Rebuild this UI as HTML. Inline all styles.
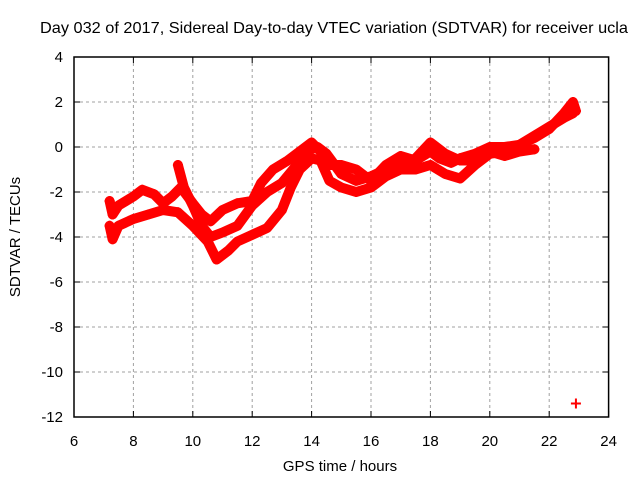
<!DOCTYPE html>
<html><head><meta charset="utf-8"><style>
body{margin:0;background:#fff;}
svg{display:block;font-family:"Liberation Sans",sans-serif;}
</style></head><body>
<svg id="chart" width="640" height="480" xmlns="http://www.w3.org/2000/svg"></svg>
<script>
const xTicks=[6,8,10,12,14,16,18,20,22,24];
const yTicks=[4,2,0,-2,-4,-6,-8,-10,-12];
const upperT=[7.2,7.3,7.5,8,8.3,8.7,9,9.3,9.6,10,10.3,10.6,11,11.5,12,12.3,12.7,13.2,13.6,14,14.3,14.6,15,15.5,16,16.5,17,17.5,18,18.3,18.7,19,19.5,20,20.5,21,21.5,22,22.5,22.8,22.9];
const upperV=[-2.4,-3,-2.6,-2.2,-1.9,-2.1,-2.5,-2.2,-1.8,-2.5,-3,-3.3,-2.8,-2.5,-2.4,-1.6,-1.0,-0.6,-0.2,0.2,-0.2,-0.8,-0.8,-1,-1.5,-0.8,-0.4,-0.6,-0.2,-0.5,-0.7,-0.5,-0.3,0,0,0.1,0.4,0.8,1.5,2.0,1.6];
const lowerT=[7.2,7.3,7.5,8,8.5,9,9.5,10,10.5,10.8,11.2,11.5,12,12.5,13,13.3,13.6,14,14.3,14.6,15,15.5,16,16.5,17,17.5,18,18.5,19,19.5,20,20.5,21,21.5,22,22.5,22.8];
const lowerV=[-3.5,-4.1,-3.5,-3.2,-3,-2.8,-2.9,-3.5,-4.2,-5,-4.6,-4.2,-3.9,-3.6,-2.8,-1.8,-1,-0.5,-0.6,-1.5,-1.8,-2.0,-1.8,-1.3,-1.0,-1.0,-0.8,-1.2,-1.4,-0.8,-0.3,-0.2,0.1,0.5,0.9,1.3,1.5];
const midT=[9.5,9.7,10,10.3,10.6,11,11.5,12,12.5,13,13.5,13.8,14.2,14.5,15,15.5,16,16.5,17,17.5,18,18.5,19,19.5,20,20.5,21,21.5];
const midV=[-0.8,-1.8,-2.6,-3.5,-4,-3.8,-3.5,-2.6,-2.0,-1.6,-0.8,-0.2,0,-0.3,-1.2,-1.5,-1.3,-1,-0.8,-0.5,0.2,-0.3,-0.6,-0.6,-0.2,-0.4,-0.2,-0.1];
const outlierT=[22.9];
const outlierV=[-11.4];

const NS="http://www.w3.org/2000/svg";
const svg=document.getElementById('chart');
const L=74,R=608.6,T=57,B=417;
const sx=v=>L+(v-6)/(24-6)*(R-L);
const sy=v=>T+(4-v)/(4-(-12))*(B-T);
function mk(tag,attrs,parent){const e=document.createElementNS(NS,tag);for(const k in attrs)e.setAttribute(k,attrs[k]);(parent||svg).appendChild(e);return e;}

xTicks.forEach((t,i)=>{
  if(i>0&&i<xTicks.length-1){const g=mk('line',{x1:sx(t),x2:sx(t),y1:T,y2:B,stroke:'#a0a0a0','stroke-dasharray':'3,3','stroke-width':1});
  
  }
  const tk=mk('line',{x1:sx(t),x2:sx(t),y1:B,y2:B-6,stroke:'#000'});
  
  
  const tk2=mk('line',{x1:sx(t),x2:sx(t),y1:T,y2:T+6,stroke:'#000'});
  
  
  const lb=mk('text',{x:sx(t),y:B+29,'text-anchor':'middle','font-size':15,fill:'#000'});
  lb.textContent=t;
  
  
});
yTicks.forEach((t,i)=>{
  if(i>0&&i<yTicks.length-1){const g=mk('line',{x1:L,x2:R,y1:sy(t),y2:sy(t),stroke:'#a0a0a0','stroke-dasharray':'3,3','stroke-width':1});
  
  }
  const tk=mk('line',{x1:L,x2:L+6,y1:sy(t),y2:sy(t),stroke:'#000'});
  
  
  const tk2=mk('line',{x1:R,x2:R-6,y1:sy(t),y2:sy(t),stroke:'#000'});
  
  
  const lb=mk('text',{x:L-11,y:sy(t)+5,'text-anchor':'end','font-size':15,fill:'#000'});
  lb.textContent=t;
  
  
});
const frame=mk('rect',{x:L,y:T,width:R-L,height:B-T,fill:'none',stroke:'#000','stroke-width':1.5});



function series(ts,vs,name){
  const g=mk('g',{});
  
  
  if(ts.length>1){
    const d=ts.map((t,i)=>(i?'L':'M')+sx(t).toFixed(1)+','+sy(vs[i]).toFixed(1)).join(' ');
    const p=mk('path',{d:d,fill:'none',stroke:'#ff0000','stroke-width':10,'stroke-linejoin':'round','stroke-linecap':'round'},g);
    
    
  }
  ts.forEach((t,i)=>{
    const x=sx(t),y=sy(vs[i]);
    const m=mk('path',{d:`M${x-5},${y}H${x+5}M${x},${y-5}V${y+5}`,stroke:'#ff0000','stroke-width':2},g);
    
    
  });
}
series(upperT,upperV,'upper-trace');
series(lowerT,lowerV,'lower-trace');
series(midT,midV,'middle-trace');
series(outlierT,outlierV,'outlier-point');

const title=mk('text',{x:40,y:33,'font-size':16,fill:'#000',textLength:588,lengthAdjust:'spacingAndGlyphs'});
title.textContent='Day 032 of 2017, Sidereal Day-to-day VTEC variation (SDTVAR) for receiver ucla';


const xl=mk('text',{x:340,y:471,'text-anchor':'middle','font-size':15,fill:'#000'});
xl.textContent='GPS time / hours';


const yl=mk('text',{x:0,y:0,'text-anchor':'middle','font-size':15,fill:'#000',transform:'translate(20,237) rotate(-90)'});
yl.textContent='SDTVAR / TECUs';


</script>
</body></html>
